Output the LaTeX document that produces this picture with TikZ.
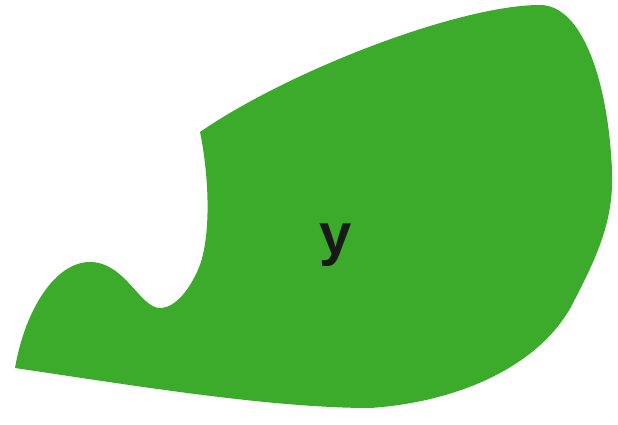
\documentclass[tikz,border=0pt]{standalone}
\usepackage{fontspec}
\setmainfont{Liberation Sans}
\definecolor{leaf}{RGB}{60,170,42}
\begin{document}
\begin{tikzpicture}[x=1pt,y=-1pt,
  blob/.style={fill=leaf,draw=none},
  lbl/.style={font=\fontsize{58}{58}\selectfont\bfseries,text=black!90,anchor=base,inner sep=0pt}]
\useasboundingbox (0,0) rectangle (618,424);
\path[blob] (15,368) .. controls (130,385) and (270,408) .. (370,408)
  .. controls (460,402) and (540,365) .. (572,305)
  .. controls (598,255) and (614,220) .. (612,170)
  .. controls (608,80) and (582,5) .. (540,5)
  .. controls (460,5) and (290,70) .. (200,132)
  .. controls (208,170) and (212,230) .. (200,265)
  .. controls (190,290) and (175,308) .. (160,308)
  .. controls (140,308) and (125,262) .. (90,262)
  .. controls (55,262) and (25,310) .. (15,368) -- cycle;
\node[lbl] (y) at (336,254) {y};
\end{tikzpicture}
\end{document}
